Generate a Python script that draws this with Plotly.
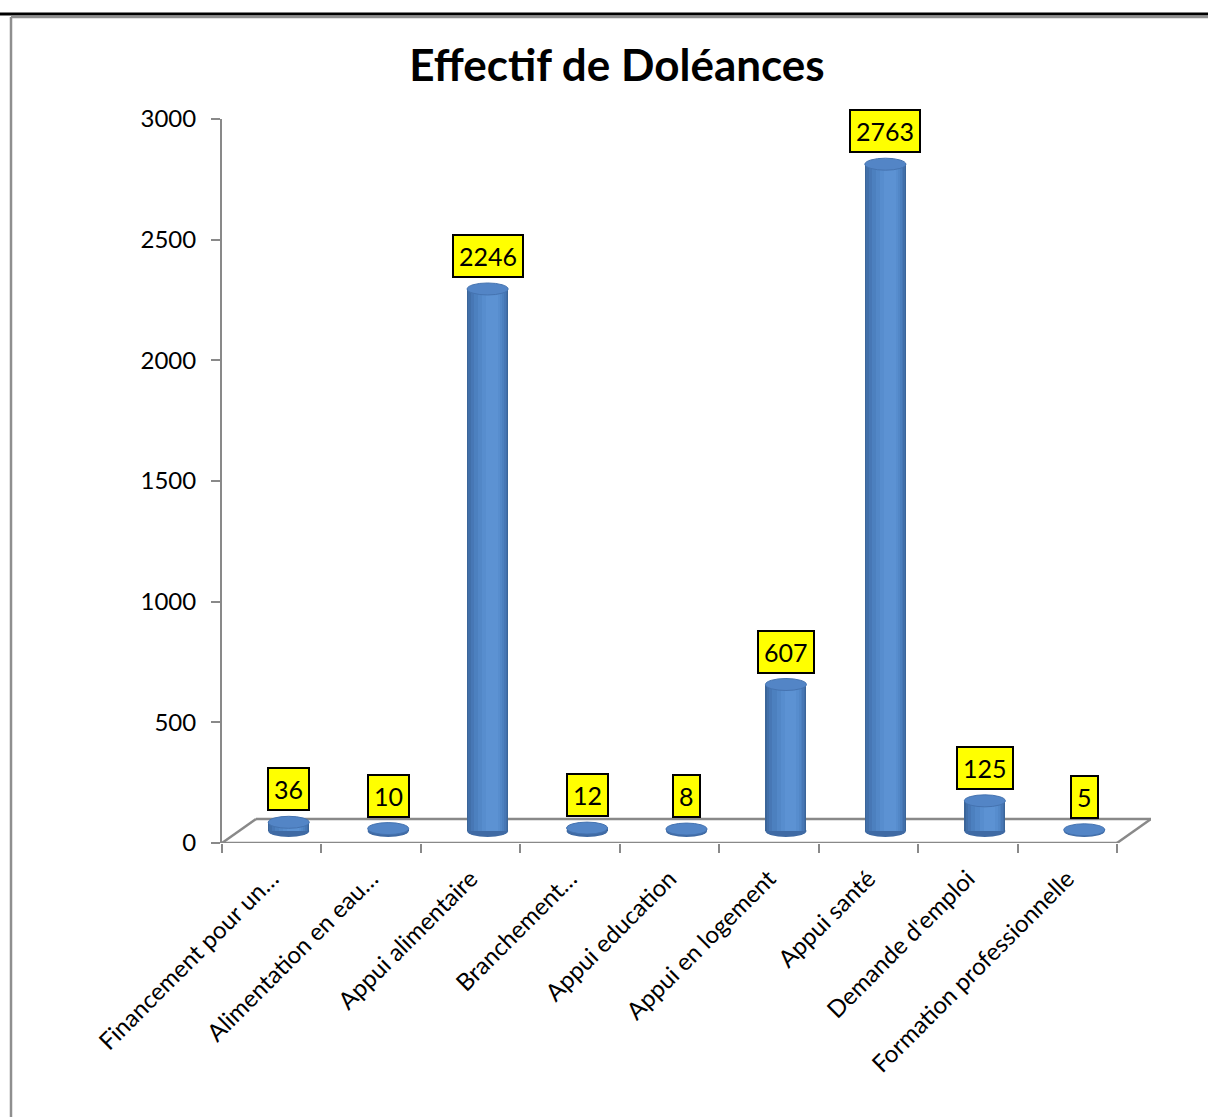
import plotly.graph_objects as go

# ---- data -------------------------------------------------------------
categories = [
    "Financement pour un…",
    "Alimentation en eau…",
    "Appui alimentaire",
    "Branchement…",
    "Appui education",
    "Appui en logement",
    "Appui santé",
    "Demande d'emploi",
    "Formation professionnelle",
]
values = [36, 10, 2246, 12, 8, 607, 2763, 125, 5]
y_ticks = [0, 500, 1000, 1500, 2000, 2500, 3000]

# ---- geometry ---------------------------------------------------------
W, H = 1208, 1117
M_L, M_R, M_T, M_B = 222, 57, 119, 274
PLOT_W = W - M_L - M_R
PLOT_H = H - M_T - M_B
Y_MAX = 3000
n = len(categories)

DEPTH_X_PX, DEPTH_Y_PX = 34, 24          # oblique depth of the 3D floor
UNIT_X = (PLOT_W - DEPTH_X_PX) / n       # pixels per category
UNIT_Y = PLOT_H / Y_MAX                  # pixels per value unit
DX = DEPTH_X_PX / UNIT_X
DY = DEPTH_Y_PX / UNIT_Y
CYL_W = 41 / UNIT_X                      # cylinder diameter (x units)
ELL_RY = 6 / UNIT_Y                      # ellipse half-height (y units)
BASE = DY / 2                            # cylinders stand mid-depth
SHIFT = DX / 2

AXIS_GREY = "#898989"
FONT = "Lato"


def px_x(px):
    return (px - M_L) / PLOT_W


def px_y(py):
    return 1 - (py - M_T) / PLOT_H


fig = go.Figure()

# cylinder bodies: nested bands give a rounded shading
bands = [
    (0.00, 1.00, "#3b6599"),
    (0.03, 0.97, "#416fa9"),
    (0.09, 0.94, "#4777b5"),
    (0.17, 0.90, "#4c80bf"),
    (0.27, 0.86, "#5287c7"),
    (0.37, 0.81, "#578dce"),
    (0.47, 0.75, "#5c92d3"),
]
for a, b, col in bands:
    fig.add_trace(go.Bar(
        x=categories, y=values, base=[BASE] * n,
        width=(b - a) * CYL_W,
        offset=SHIFT - CYL_W / 2 + a * CYL_W,
        marker=dict(color=col, line=dict(width=0)),
        hoverinfo="skip", showlegend=False,
    ))

shapes = []
line_style = dict(color=AXIS_GREY, width=2.5)
# floor outline
floor = [(-0.5, 0), (n - 0.5, 0), (n - 0.5 + DX, DY), (-0.5 + DX, DY), (-0.5, 0)]
for (x0, y0), (x1, y1) in zip(floor[:-1], floor[1:]):
    shapes.append(dict(type="line", xref="x", yref="y", x0=x0, y0=y0, x1=x1, y1=y1,
                       line=line_style, layer="below"))

for i, v in enumerate(values):
    c = i + SHIFT
    # rounded bottom of each cylinder
    shapes.append(dict(type="circle", xref="x", yref="y",
                       x0=c - CYL_W / 2, x1=c + CYL_W / 2,
                       y0=BASE - ELL_RY, y1=BASE + ELL_RY,
                       fillcolor="#3f6aa4", line=dict(width=0), layer="below"))
    # top face
    shapes.append(dict(type="circle", xref="x", yref="y",
                       x0=c - CYL_W / 2, x1=c + CYL_W / 2,
                       y0=BASE + v - ELL_RY, y1=BASE + v + ELL_RY,
                       fillcolor="#5385c6", line=dict(color="#4573b0", width=1),
                       layer="above"))

# page frame
shapes.append(dict(type="line", xref="paper", yref="paper",
                   x0=px_x(0), x1=px_x(W), y0=px_y(14), y1=px_y(14),
                   line=dict(color="black", width=3)))
shapes.append(dict(type="line", xref="paper", yref="paper",
                   x0=px_x(11), x1=px_x(11), y0=px_y(H + 5), y1=px_y(17),
                   line=dict(color="#8f8f8f", width=2.5)))
shapes.append(dict(type="line", xref="paper", yref="paper",
                   x0=px_x(11), x1=px_x(W + 5), y0=px_y(17), y1=px_y(17),
                   line=dict(color="#8f8f8f", width=2.5)))

# value labels
annotations = []
for i, v in enumerate(values):
    annotations.append(dict(
        x=i + SHIFT, y=BASE + v, xref="x", yref="y",
        text=str(v), showarrow=False, yanchor="bottom", xanchor="center",
        yshift=11,
        font=dict(family=FONT, size=25, color="black"),
        bgcolor="#ffff00", bordercolor="black", borderwidth=2, borderpad=5,
    ))

fig.update_layout(
    width=W, height=H,
    margin=dict(l=M_L, r=M_R, t=M_T, b=M_B, autoexpand=False),
    paper_bgcolor="white", plot_bgcolor="white",
    barmode="overlay", bargap=0,
    title=dict(text="<b>Effectif de Doléances</b>",
               font=dict(family=FONT, size=44, color="black"),
               x=617 / W, xref="container", xanchor="center",
               y=1 - 66 / H, yref="container", yanchor="middle"),
    shapes=shapes, annotations=annotations,
    xaxis=dict(type="category", range=[-0.5, n - 0.5 + DX],
               tickson="boundaries", ticks="outside", ticklen=9,
               tickwidth=2, tickcolor=AXIS_GREY,
               showline=False, showgrid=False, zeroline=False,
               tickangle=-45, ticklabelstandoff=16,
               tickfont=dict(family=FONT, size=24, color="black")),
    yaxis=dict(range=[0, Y_MAX], tickvals=y_ticks,
               showline=True, linecolor=AXIS_GREY, linewidth=2,
               ticks="outside", ticklen=9, tickwidth=2, tickcolor=AXIS_GREY,
               showgrid=False, zeroline=False, ticklabelstandoff=10,
               tickfont=dict(family=FONT, size=24, color="black")),
    showlegend=False,
)

fig.write_html("out.html")
